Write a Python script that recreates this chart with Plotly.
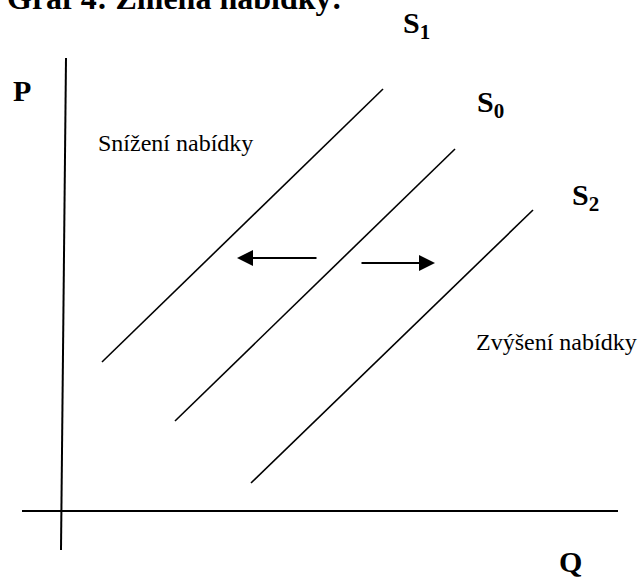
import plotly.graph_objects as go

# Schematic coordinates (x = quantity position, y = price position, in chart units; y grows downward)
curve_names = ["S<sub>1</sub>", "S<sub>0</sub>", "S<sub>2</sub>"]
curve_q_low = [102, 175, 251]
curve_p_low = [362, 421, 483]
curve_q_high = [383, 455, 533]
curve_p_high = [89, 149, 210]
label_q = [401, 475, 570]
label_p = [25, 104, 197]

axis_p_q = [66, 61]        # vertical (P) axis x at top and bottom
axis_p_p = [58, 550]
axis_q_q = [22, 618]       # horizontal (Q) axis
axis_q_p = [511, 511]

arrow_tail_q = [318, 360]
arrow_tip_q = [237, 435]
arrow_p = [258, 263]

title_text = "Graf 4: Změna nabídky:"
region_texts = ["Snížení nabídky", "Zvýšení nabídky"]
region_q = [96, 474]
region_p = [143, 342]

SERIF = "Liberation Serif, Times New Roman, Times, serif"

fig = go.Figure()

fig.add_trace(go.Scatter(x=axis_p_q, y=axis_p_p, mode="lines",
                         line=dict(color="black", width=2), hoverinfo="skip"))
fig.add_trace(go.Scatter(x=axis_q_q, y=axis_q_p, mode="lines",
                         line=dict(color="black", width=2), hoverinfo="skip"))

for i in range(len(curve_names)):
    fig.add_trace(go.Scatter(x=[curve_q_low[i], curve_q_high[i]],
                             y=[curve_p_low[i], curve_p_high[i]],
                             mode="lines", line=dict(color="black", width=1.6),
                             hoverinfo="skip"))
    fig.add_annotation(x=label_q[i], y=label_p[i], text="<b>" + curve_names[i] + "</b>",
                       showarrow=False, xanchor="left", yanchor="middle",
                       font=dict(family=SERIF, size=30, color="black"))

for i in range(len(arrow_tip_q)):
    fig.add_annotation(x=arrow_tip_q[i], y=arrow_p[i], ax=arrow_tail_q[i], ay=arrow_p[i],
                       xref="x", yref="y", axref="x", ayref="y", text="",
                       showarrow=True, arrowhead=2, arrowsize=1.6, arrowwidth=2,
                       arrowcolor="black")

for i in range(len(region_texts)):
    fig.add_annotation(x=region_q[i], y=region_p[i], text=region_texts[i],
                       showarrow=False, xanchor="left", yanchor="middle",
                       font=dict(family=SERIF, size=24, color="black"))

fig.add_annotation(x=22, y=90, text="<b>P</b>", showarrow=False,
                   xanchor="center", yanchor="middle",
                   font=dict(family=SERIF, size=30, color="black"))
fig.add_annotation(x=570, y=561, text="<b>Q</b>", showarrow=False,
                   xanchor="center", yanchor="middle",
                   font=dict(family=SERIF, size=30, color="black"))
fig.add_annotation(x=5 / 640, y=1 + 2 / 582, xref="paper", yref="paper",
                   text="<b>" + title_text + "</b>", showarrow=False,
                   xanchor="left", yanchor="middle",
                   font=dict(family=SERIF, size=32, color="black"))

fig.update_layout(width=640, height=582, margin=dict(l=0, r=0, t=0, b=0),
                  paper_bgcolor="white", plot_bgcolor="white", showlegend=False,
                  xaxis=dict(range=[0, 640], visible=False, fixedrange=True),
                  yaxis=dict(range=[582, 0], visible=False, fixedrange=True))

fig.write_html("out.html", config={"displayModeBar": False},
               post_script="document.body.style.margin='0';")
